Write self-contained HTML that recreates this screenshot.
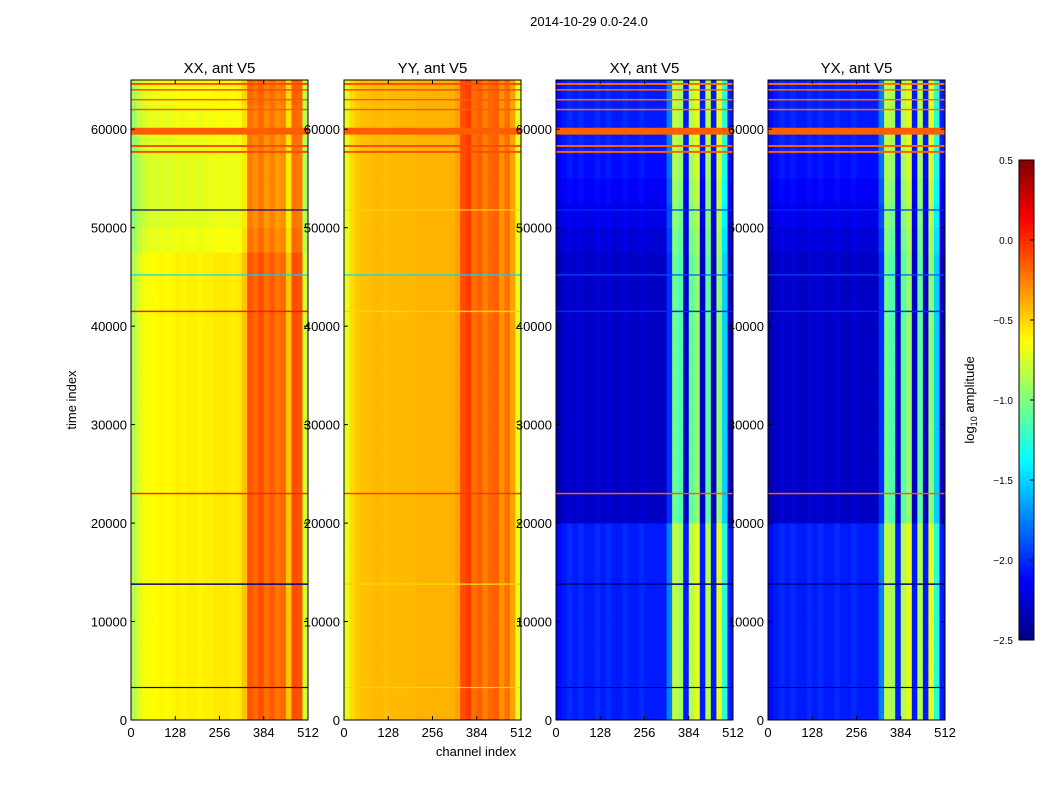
<!DOCTYPE html>
<html><head><meta charset="utf-8">
<style>
body{margin:0;background:#fff;width:1050px;height:800px;overflow:hidden;font-family:"Liberation Sans",sans-serif}
svg text{font-family:"Liberation Sans",sans-serif}
</style></head>
<body>
<svg id="fig" width="1050" height="800">
<text x="589" y="26" text-anchor="middle" font-size="13">2014-10-29 0.0-24.0</text>
<text transform="translate(76,400) rotate(-90)" text-anchor="middle" font-size="13">time index</text>
<text x="476" y="756" text-anchor="middle" font-size="13">channel index</text>
<text transform="translate(974,400) rotate(-90)" text-anchor="middle" font-size="13">log<tspan font-size="9" dy="3">10</tspan><tspan dy="-3"> amplitude</tspan></text>
</svg>
<script>
// ---- data ----
const panelTitles = ["XX, ant V5","YY, ant V5","XY, ant V5","YX, ant V5"];
const xTicks = [0,128,256,384,512];
const yTicks = [0,10000,20000,30000,40000,50000,60000];
const cbTicks = [0.5,0.0,-0.5,-1.0,-1.5,-2.0,-2.5];
// column profiles (32 bins of 16 channels), log10 amplitude
const xxCols = [-0.85,-0.72,-0.66,-0.62,-0.62,-0.6,-0.62,-0.6,-0.58,-0.6,-0.58,-0.58,-0.6,-0.58,-0.58,-0.56,-0.56,-0.56,-0.58,-0.56,-0.45,-0.12,-0.18,-0.1,-0.2,-0.14,-0.22,-0.18,-0.45,-0.1,-0.12,-0.75];
const yyCols = [-0.7,-0.52,-0.46,-0.44,-0.44,-0.42,-0.42,-0.44,-0.42,-0.42,-0.42,-0.42,-0.42,-0.4,-0.4,-0.4,-0.4,-0.4,-0.4,-0.4,-0.35,-0.1,-0.05,-0.2,-0.15,-0.25,-0.18,-0.15,-0.3,-0.2,-0.35,-0.7];
const xyCols = [-2.35,-2.3,-2.25,-2.3,-2.25,-2.3,-2.3,-2.25,-2.3,-2.25,-2.3,-2.3,-2.25,-2.3,-2.3,-2.25,-2.3,-2.3,-2.3,-2.3,-2.0,-1.05,-1.15,-2.3,-1.1,-0.95,-2.3,-1.1,-2.3,-0.95,-1.5,-2.3];
const yxCols = [-2.35,-2.3,-2.25,-2.3,-2.25,-2.3,-2.3,-2.25,-2.3,-2.25,-2.3,-2.3,-2.25,-2.3,-2.3,-2.25,-2.3,-2.3,-2.3,-2.3,-2.0,-1.05,-1.15,-2.3,-1.1,-0.95,-2.3,-1.1,-2.3,-0.95,-1.5,-2.3];
// time offsets (26 bins of 2500 time index)
const xxTime = [0,0,0,0,0,0,0,0,0,0,0,0,0,0,0,0,0,0,0,-0.08,-0.12,-0.12,-0.12,-0.1,-0.08,-0.05];
const yyTime = [0,0,0,0,0,0,0,0,0,0,0,0,0,0,0,0,0,0,0,0,0,0,0,0,0,0];
const xyTime = [0.25,0.25,0.25,0.25,0.25,0.25,0.25,0.25,0,0,0,0,0,0,0,0,0,0,0,0.05,0.1,0.15,0.2,0.25,0.25,0.25];
const yxTime = [0.25,0.25,0.25,0.25,0.25,0.25,0.25,0.25,0,0,0,0,0,0,0,0,0,0,0,0.05,0.1,0.15,0.2,0.25,0.25,0.25];
// horizontal line features: time index, thickness (time units), value
const lineTimes = [59800,58300,57700,62000,63000,64000,64600,23000,41500,13800,3300,45200,51800];
const lineWidths = [700,200,200,150,150,150,200,150,150,150,120,120,120];
const xxLineVals = [-0.15,-0.1,-0.1,-0.15,-0.15,-0.1,-0.1,0.0,0.05,-2.5,-2.5,-1.5,-2.5];
const yyLineVals = [-0.15,-0.1,-0.1,-0.15,-0.15,-0.1,-0.1,-0.05,-0.5,-0.5,-0.5,-1.5,-0.5];
const xyLineVals = [-0.15,-0.15,-0.15,-0.2,-0.2,-0.2,-0.2,-0.15,-2.0,-2.5,-2.5,-1.9,-2.0];
const yxLineVals = [-0.15,-0.15,-0.15,-0.2,-0.2,-0.2,-0.2,-0.15,-2.0,-2.5,-2.5,-1.9,-2.0];

const colsAll=[xxCols,yyCols,xyCols,yxCols], timeAll=[xxTime,yyTime,xyTime,yxTime], linesAll=[xxLineVals,yyLineVals,xyLineVals,yxLineVals];
const NS="http://www.w3.org/2000/svg", svg=document.getElementById('fig');
const panelX=[131,344,556,768], PW=177, PT=80, PB=720;
const vmin=-2.5, vmax=0.5;
function jet(v){let t=(v-vmin)/(vmax-vmin);t=Math.max(0,Math.min(1,t));
 const f=x=>Math.round(255*Math.max(0,Math.min(1,x)));
 return `rgb(${f(1.5-Math.abs(4*t-3))},${f(1.5-Math.abs(4*t-2))},${f(1.5-Math.abs(4*t-1))})`;}
function mk(tag,attrs,parent){const e=document.createElementNS(NS,tag);for(const k in attrs)e.setAttribute(k,attrs[k]);(parent||svg).appendChild(e);return e;}
const yS=t=>PB-(t/65000)*(PB-PT);
panelX.forEach((px,p)=>{
 const xS=c=>px+c/512*PW;
 yTicks.forEach(v=>{const y=yS(v);
  const l=mk('text',{x:px-4,y:y+5,'text-anchor':'end','font-size':13});l.textContent=v;
  
  });
 const g=mk('g',{});
 
 
 const cols=colsAll[p],tm=timeAll[p];
 for(let c=0;c<cols.length;c++)for(let t=0;t<tm.length;t++){
  const x0=xS(c*16),x1=xS((c+1)*16),y0=yS((t+1)*2500),y1=yS(t*2500);
  const r=mk('rect',{x:x0,y:y0,width:x1-x0+0.4,height:y1-y0+0.4,fill:jet(cols[c]+tm[t])},g);
  
  
 }
 lineTimes.forEach((lt,i)=>{
  const y0=yS(lt+lineWidths[i]/2),y1=yS(lt-lineWidths[i]/2);
  const r=mk('rect',{x:px,y:y0,width:PW,height:Math.max(1,y1-y0),fill:jet(linesAll[p][i])},g);
  
  
 });
 const fr=mk('rect',{x:px,y:PT,width:PW,height:PB-PT,fill:'none',stroke:'#000','stroke-width':1});
 
 
 const tt=mk('text',{x:px+PW/2,y:PT-7,'text-anchor':'middle','font-size':15});tt.textContent=panelTitles[p];
 
 
 xTicks.forEach(v=>{const x=xS(v);mk('line',{x1:x,x2:x,y1:PB,y2:PB-4,stroke:'#000'});mk('line',{x1:x,x2:x,y1:PT,y2:PT+4,stroke:'#000'});
  const l=mk('text',{x:x,y:PB+17,'text-anchor':'middle','font-size':13});l.textContent=v;
  
  });
 yTicks.forEach(v=>{const y=yS(v);mk('line',{x1:px,x2:px+4,y1:y,y2:y,stroke:'#000'});mk('line',{x1:px+PW,x2:px+PW-4,y1:y,y2:y,stroke:'#000'});});
});
// colorbar
const CX=1019,CW=15,CT=160,CB=640;
const cbY=v=>CB-(v-vmin)/(vmax-vmin)*(CB-CT);
const cg=mk('g',{});


for(let i=0;i<120;i++){const v=vmin+(i+0.5)*(vmax-vmin)/120;const y1=cbY(vmin+i*(vmax-vmin)/120),y0=cbY(vmin+(i+1)*(vmax-vmin)/120);
 mk('rect',{x:CX,y:y0,width:CW,height:y1-y0+0.5,fill:jet(v)},cg);}
mk('rect',{x:CX,y:CT,width:CW,height:CB-CT,fill:'none',stroke:'#000'},cg);
cbTicks.forEach(v=>{const y=cbY(v);mk('line',{x1:CX+CW-4,x2:CX+CW,y1:y,y2:y,stroke:'#000'},cg);
 const l=mk('text',{x:CX-6,y:y+4,'text-anchor':'end','font-size':10},cg);l.textContent=v.toFixed(1).replace('-','\u2212');
 
 });
</script>
</body></html>
